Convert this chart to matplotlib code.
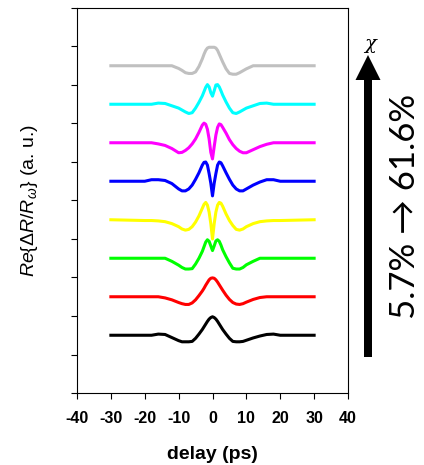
import matplotlib
matplotlib.use("Agg")
import matplotlib.pyplot as plt
from matplotlib.patches import FancyArrow
from matplotlib.ticker import FixedLocator, FuncFormatter

# ---------------- data ----------------
delay = [-30, -20, -18, -16, -14, -12, -10, -9, -8, -7, -6, -5, -4, -3, -2.5, -2, -1.5, -1, -0.5, 0,
         0.5, 1, 1.5, 2, 2.5, 3, 4, 5, 6, 7, 8, 9, 10, 12, 14, 16, 18, 20, 30]

black = [0, 0, 0, 0.03, 0.02, -0.06, -0.14, -0.17, -0.17, -0.17, -0.16, -0.08, 0.03, 0.15, 0.22, 0.29, 0.36, 0.42, 0.46, 0.48,
         0.46, 0.42, 0.36, 0.29, 0.22, 0.15, 0.03, -0.08, -0.16, -0.17, -0.17, -0.16, -0.13, -0.07, -0.02, 0.02, 0.03, 0, 0]
red = [0, 0, 0, 0, -0.03, -0.08, -0.15, -0.18, -0.2, -0.2, -0.16, -0.08, 0.03, 0.15, 0.22, 0.3, 0.37, 0.44, 0.48, 0.49,
       0.48, 0.44, 0.38, 0.31, 0.24, 0.17, 0.04, -0.07, -0.15, -0.19, -0.2, -0.18, -0.14, -0.07, -0.02, 0, 0, 0, 0]
green = [0, 0, 0, 0, 0, -0.08, -0.18, -0.24, -0.28, -0.28, -0.27, -0.15, 0.0, 0.18, 0.3, 0.42, 0.48, 0.44, 0.32, 0.2,
         0.32, 0.45, 0.48, 0.44, 0.34, 0.22, 0.04, -0.12, -0.26, -0.28, -0.28, -0.24, -0.17, -0.08, 0, 0, 0, 0, 0]
yellow = [0, -0.02, -0.02, -0.03, -0.05, -0.1, -0.18, -0.24, -0.27, -0.25, -0.18, -0.06, 0.1, 0.3, 0.4, 0.45, 0.38, 0.2, -0.1, -0.5,
          -0.1, 0.2, 0.38, 0.45, 0.43, 0.35, 0.15, -0.02, -0.15, -0.25, -0.27, -0.24, -0.18, -0.1, -0.05, -0.03, -0.02, -0.02, 0]
blue = [0, 0, 0.04, 0.04, 0.02, -0.06, -0.2, -0.25, -0.25, -0.2, -0.1, 0.05, 0.22, 0.42, 0.49, 0.5, 0.42, 0.2, -0.05, -0.38,
        -0.05, 0.2, 0.42, 0.5, 0.48, 0.4, 0.22, 0.05, -0.1, -0.2, -0.25, -0.25, -0.2, -0.1, -0.02, 0.04, 0.04, 0, 0]
magenta = [0, 0, 0, -0.03, -0.07, -0.15, -0.26, -0.25, -0.2, -0.13, -0.03, 0.1, 0.27, 0.46, 0.51, 0.48, 0.35, 0.1, -0.25, -0.42,
           -0.1, 0.2, 0.4, 0.49, 0.47, 0.4, 0.25, 0.08, -0.05, -0.15, -0.22, -0.26, -0.26, -0.18, -0.1, -0.04, 0, 0, 0]
cyan = [0, 0, 0, 0.03, 0.02, -0.04, -0.1, -0.15, -0.2, -0.24, -0.22, -0.1, 0.05, 0.22, 0.33, 0.44, 0.51, 0.45, 0.3, 0.21,
        0.35, 0.5, 0.51, 0.45, 0.35, 0.24, 0.06, -0.1, -0.22, -0.24, -0.2, -0.15, -0.1, -0.04, 0.02, 0.03, 0, 0, 0]
gray = [0, 0, 0, 0, 0, 0, -0.07, -0.12, -0.18, -0.2, -0.2, -0.16, -0.02, 0.18, 0.3, 0.4, 0.46, 0.48, 0.48, 0.48,
        0.48, 0.46, 0.4, 0.3, 0.2, 0.1, -0.08, -0.2, -0.22, -0.22, -0.18, -0.13, -0.08, 0, 0, 0, 0, 0, 0]

series = [black, red, green, yellow, blue, magenta, cyan, gray]
offsets = [1.5, 2.5, 3.5, 4.5, 5.5, 6.5, 7.5, 8.5]
colors = ["#000000", "#ff0000", "#00ff00", "#ffff00", "#0000ff", "#ff00ff", "#00ffff", "#c0c0c0"]

xticks = [-40, -30, -20, -10, 0, 10, 20, 30, 40]
yticks = list(range(0, 11))

# ---------------- figure ----------------
plt.rcParams["mathtext.fontset"] = "custom"
plt.rcParams["mathtext.it"] = "Liberation Sans:italic"
plt.rcParams["mathtext.rm"] = "Liberation Sans"

W, H = 424, 465
fig = plt.figure(figsize=(W / 100, H / 100), dpi=100)
ax = fig.add_axes([77 / W, (H - 393) / H, (348 - 77) / W, (393 - 8) / H])

for ys, off, c in zip(series, offsets, colors):
    ax.plot(delay, [v + off for v in ys], color=c, lw=2.2, solid_joinstyle="round")

ax.set_xlim(-40, 40)
ax.set_ylim(0, 10)
ax.xaxis.set_major_locator(FixedLocator(xticks))
ax.yaxis.set_major_locator(FixedLocator(yticks))
ax.xaxis.set_major_formatter(FuncFormatter(lambda v, p: "%d" % v))
ax.set_yticklabels([])
ax.tick_params(axis="both", direction="out", length=4, width=0.8, color="black")
ax.tick_params(axis="x", labelsize=11.5, pad=9)
for lab in ax.get_xticklabels():
    lab.set_fontfamily("Liberation Sans")
    lab.set_fontweight("bold")
for s in ax.spines.values():
    s.set_linewidth(0.8)
    s.set_color("black")

ax.set_xlabel("delay (ps)", fontsize=14, fontfamily="Liberation Sans", fontweight="bold", labelpad=14)
ax.set_ylabel(r"$Re\{\Delta R/R_{\omega}\}$ (a. u.)", fontsize=14, fontfamily="Liberation Sans", labelpad=19)

# overlay axes in pixel coordinates for the arrow annotation
ov = fig.add_axes([0, 0, 1, 1], facecolor="none")
ov.set_xlim(0, W)
ov.set_ylim(H, 0)
ov.axis("off")
ov.add_patch(FancyArrow(368, 357, 0, -302, width=8, head_width=25, head_length=25,
                        length_includes_head=True, color="black", lw=0))
ov.text(370, 44, "χ", fontsize=14, fontstyle="italic", fontfamily="DejaVu Serif",
        ha="center", va="center")
ov.text(405, 206, "5.7% → 61.6%", fontsize=25, fontfamily=["Lato", "DejaVu Sans"],
        rotation=90, ha="center", va="center")

fig.savefig("out.png", dpi=100)
